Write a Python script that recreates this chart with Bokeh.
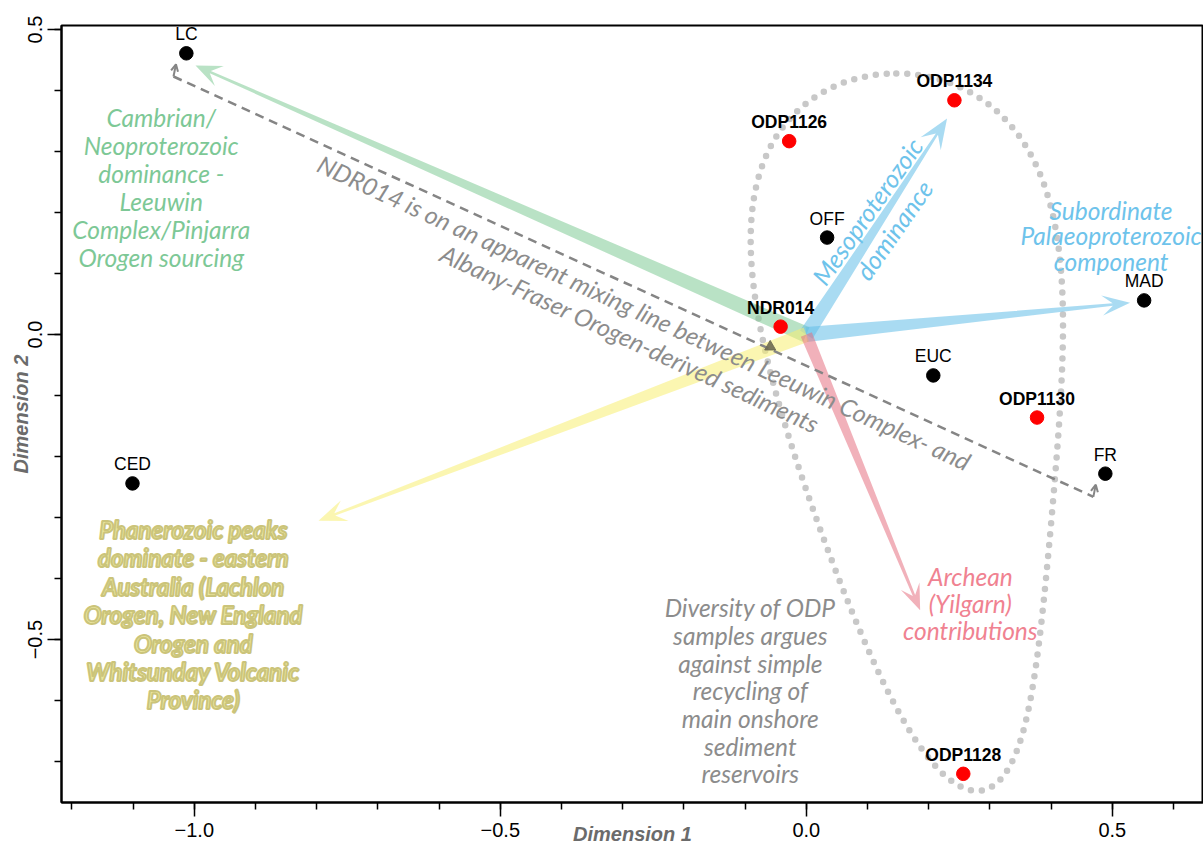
import math
import numpy as np
from bokeh.plotting import figure
from bokeh.models import (Range1d, ColumnDataSource, LabelSet, SingleIntervalTicker,
                          CustomJSTickFormatter, Arrow, OpenHead)
from bokeh.core.properties import value
from bokeh.embed import file_html
from bokeh.resources import INLINE

# ---------------- data ----------------
black_names = ["LC", "CED", "OFF", "MAD", "EUC", "FR"]
black_x = [-1.013, -1.101, 0.034, 0.552, 0.2075, 0.4886]
black_y = [0.461, -0.244, 0.159, 0.056, -0.067, -0.228]

red_names = ["NDR014", "ODP1134", "ODP1126", "ODP1130", "ODP1128"]
red_x = [-0.042, 0.242, -0.028, 0.377, 0.2565]
red_y = [0.013, 0.384, 0.317, -0.136, -0.720]

arrow_start_x = [0.0, 0.0, 0.0, 0.0, 0.0]
arrow_start_y = [0.0, 0.0, 0.0, 0.0, 0.0]
arrow_tip_x = [-0.998, 0.230, 0.529, -0.797, 0.186]
arrow_tip_y = [0.441, 0.354, 0.052, -0.305, -0.452]
arrow_colors = ["#7fcb96", "#63bde8", "#63bde8", "#f7ee71", "#e67182"]

mix_x = [-1.034, 0.469]
mix_y = [0.423, -0.266]
mix_mark_x = [-0.059]
mix_mark_y = [-0.020]

# egg-shaped envelope around the ODP samples
ell_top, ell_bottom = 0.428, -0.748
ell_mid0, ell_mid1 = 0.147, 0.132
ell_w0, ell_w1 = 0.166, 0.222

notes = [
    "Cambrian/\nNeoproterozoic\ndominance -\nLeeuwin\nComplex/Pinjarra\nOrogen sourcing",
    "Subordinate\nPalaeoproterozoic\ncomponent",
    "Archean\n(Yilgarn)\ncontributions",
    "Diversity of ODP\nsamples argues\nagainst simple\nrecycling of\nmain onshore\nsediment\nreservoirs",
]
notes_x = [-1.054, 0.498, 0.268, -0.0915]
notes_y = [0.241, 0.162, -0.441, -0.584]
notes_color = ["#7dc896", "#6ec3eb", "#f08291", "#8c8c8c"]
notes_lh = [0.96, 0.875, 0.93, 0.955]

meso_text = "Mesoproterozoic\ndominance"
meso_x, meso_y = [0.121], [0.187]

phan_text = "Phanerozoic peaks\ndominate - eastern\nAustralia (Lachlon\nOrogen, New England\nOrogen and\nWhitsunday Volcanic\nProvince)"
phan_x, phan_y = [-1.0016], [-0.459]

mix_text = ["NDR014 is on an apparent mixing line between Leeuwin Complex- and",
            "Albany-Fraser Orogen-derived sediments"]
mix_text_x = [-0.265, -0.288]
mix_text_y = [0.036, -0.0066]

X0, X1 = -1.217, 0.649
Y0, Y1 = -0.767, 0.5066
FW, FH = 1142, 777
KX = FW / (X1 - X0)
KY = FH / (Y1 - Y0)

p = figure(x_range=Range1d(X0, X1), y_range=Range1d(Y0, Y1),
           frame_width=FW, frame_height=FH,
           min_border_left=61, min_border_right=0, min_border_top=25, min_border_bottom=43,
           output_backend="svg", toolbar_location=None)
p.grid.visible = False
p.outline_line_color = "black"
p.outline_line_width = 2
p.background_fill_color = "white"

for ax in (p.xaxis[0], p.yaxis[0]):
    ax.ticker = SingleIntervalTicker(interval=0.5, num_minor_ticks=5)
    ax.formatter = CustomJSTickFormatter(
        code="return (tick < -1e-9 ? '\u2212' : '') + Math.abs(tick).toFixed(1);")
    ax.major_tick_out = 14
    ax.major_tick_in = 0
    ax.minor_tick_out = 7
    ax.minor_tick_in = 0
    ax.axis_line_width = 2
    ax.major_tick_line_width = 1.5
    ax.minor_tick_line_width = 1.5
    ax.major_label_text_font = "Liberation Sans"
    ax.major_label_text_font_size = "20px"
    ax.major_label_text_color = "black"
    ax.axis_label_text_font = "Liberation Sans"
    ax.axis_label_text_font_style = "bold italic"
    ax.axis_label_text_font_size = "20px"
    ax.axis_label_text_color = "#6b6b6b"
p.xaxis[0].major_label_standoff = 6
p.yaxis[0].major_label_standoff = 5
p.yaxis[0].major_label_orientation = "parallel"
p.xaxis[0].axis_label = "Dimension 1"
p.yaxis[0].axis_label = "Dimension 2"
p.xaxis[0].axis_label_standoff = -17
p.yaxis[0].axis_label_standoff = -6

# envelope
t = np.linspace(0, 2 * np.pi, 500)
s = (1 - np.cos(t)) / 2
ey = ell_top - (ell_top - ell_bottom) * s
ex = ell_mid0 + ell_mid1 * s ** 1.6 + (ell_w0 + ell_w1 * (1 - s) ** 2) * np.sin(t)
p.line(ex, ey, line_color="#c8c8c8", line_width=6.5, line_dash="0 11", line_cap="round")


def tapered(x0, y0, x1, y1, w0, w1, hl, hw):
    ax0, ay0 = x0 * KX, y0 * KY
    ax1, ay1 = x1 * KX, y1 * KY
    dx, dy = ax1 - ax0, ay1 - ay0
    L = math.hypot(dx, dy)
    ux, uy = dx / L, dy / L
    nx, ny = -uy, ux
    notch = hl * 0.62
    qx, qy = ax1 - ux * notch, ay1 - uy * notch
    bx, by = ax1 - ux * hl, ay1 - uy * hl
    pts = [
        (ax0 + nx * w0 / 2, ay0 + ny * w0 / 2),
        (qx + nx * w1 / 2, qy + ny * w1 / 2),
        (bx + nx * hw / 2, by + ny * hw / 2),
        (ax1, ay1),
        (bx - nx * hw / 2, by - ny * hw / 2),
        (qx - nx * w1 / 2, qy - ny * w1 / 2),
        (ax0 - nx * w0 / 2, ay0 - ny * w0 / 2),
    ]
    return [q[0] / KX for q in pts], [q[1] / KY for q in pts]


w_start = [16, 15, 15, 15, 12]
w_end = [2.5, 2.5, 2.5, 2.5, 2.5]
head_len = [26, 30, 28, 28, 26]
head_w = [22, 24, 20, 22, 20]
axs, ays = [], []
for i in range(len(arrow_tip_x)):
    xs, ys = tapered(arrow_start_x[i], arrow_start_y[i], arrow_tip_x[i], arrow_tip_y[i],
                     w_start[i], w_end[i], head_len[i], head_w[i])
    axs.append(xs)
    ays.append(ys)
p.patches(axs, ays, fill_color=arrow_colors, fill_alpha=0.55, line_color=None)

# mixing line
p.line(mix_x, mix_y, line_color="#858585", line_width=2.5, line_dash="9 6")
for xe, ye in zip(mix_x, mix_y):
    p.add_layout(Arrow(end=OpenHead(size=7, line_color="#858585", line_width=2),
                       x_start=xe, y_start=ye, x_end=xe + 0.004, y_end=ye + 0.02,
                       line_color="#858585", line_width=2))
p.scatter(mix_mark_x, mix_mark_y, marker="triangle", size=11, color="#6e6a52", alpha=0.9)

# annotation texts
for i in range(len(notes)):
    p.text(x=[notes_x[i]], y=[notes_y[i]], text=[notes[i]], text_color=notes_color[i],
           text_font=value("Lato"), text_font_style="italic", text_font_size="24.5px",
           text_align="center", text_baseline="middle", text_line_height=notes_lh[i])
p.text(x=meso_x, y=meso_y, text=[meso_text], text_color="#6ec3eb", angle=0.96,
       text_font=value("Lato"), text_font_style="italic", text_font_size="25px",
       text_align="center", text_baseline="middle", text_line_height=1.08)
pr = p.text(x=phan_x, y=phan_y, text=[phan_text], text_color="#eae69e",
            text_font=value("Lato"), text_font_style="bold italic", text_font_size="24px",
            text_align="center", text_baseline="middle", text_line_height=0.98)
if "text_outline_color" in pr.glyph.properties():
    pr.glyph.text_outline_color = "#cbc47a"
p.text(x=mix_text_x, y=mix_text_y, text=mix_text, text_color="#8c8c8c", angle=-0.433,
       text_font=value("Lato"), text_font_style="italic", text_font_size="24.5px",
       text_align="center", text_baseline="middle")

# points
p.scatter(black_x, black_y, size=13.5, color="black")
p.scatter(red_x, red_y, size=13.5, color="#ff0000")

src_b = ColumnDataSource(dict(x=black_x, y=black_y, n=black_names))
src_r = ColumnDataSource(dict(x=red_x, y=red_y, n=red_names))
p.add_layout(LabelSet(x="x", y="y", text="n", source=src_b, y_offset=13,
                      text_align="center", text_baseline="alphabetic",
                      text_font=value("Liberation Sans"), text_font_size="17.5px", text_color="black"))
p.add_layout(LabelSet(x="x", y="y", text="n", source=src_r, y_offset=13,
                      text_align="center", text_baseline="alphabetic", text_font_style="bold",
                      text_font=value("Liberation Sans"), text_font_size="17.5px", text_color="black"))

open("out.html", "w").write(file_html(p, INLINE))
